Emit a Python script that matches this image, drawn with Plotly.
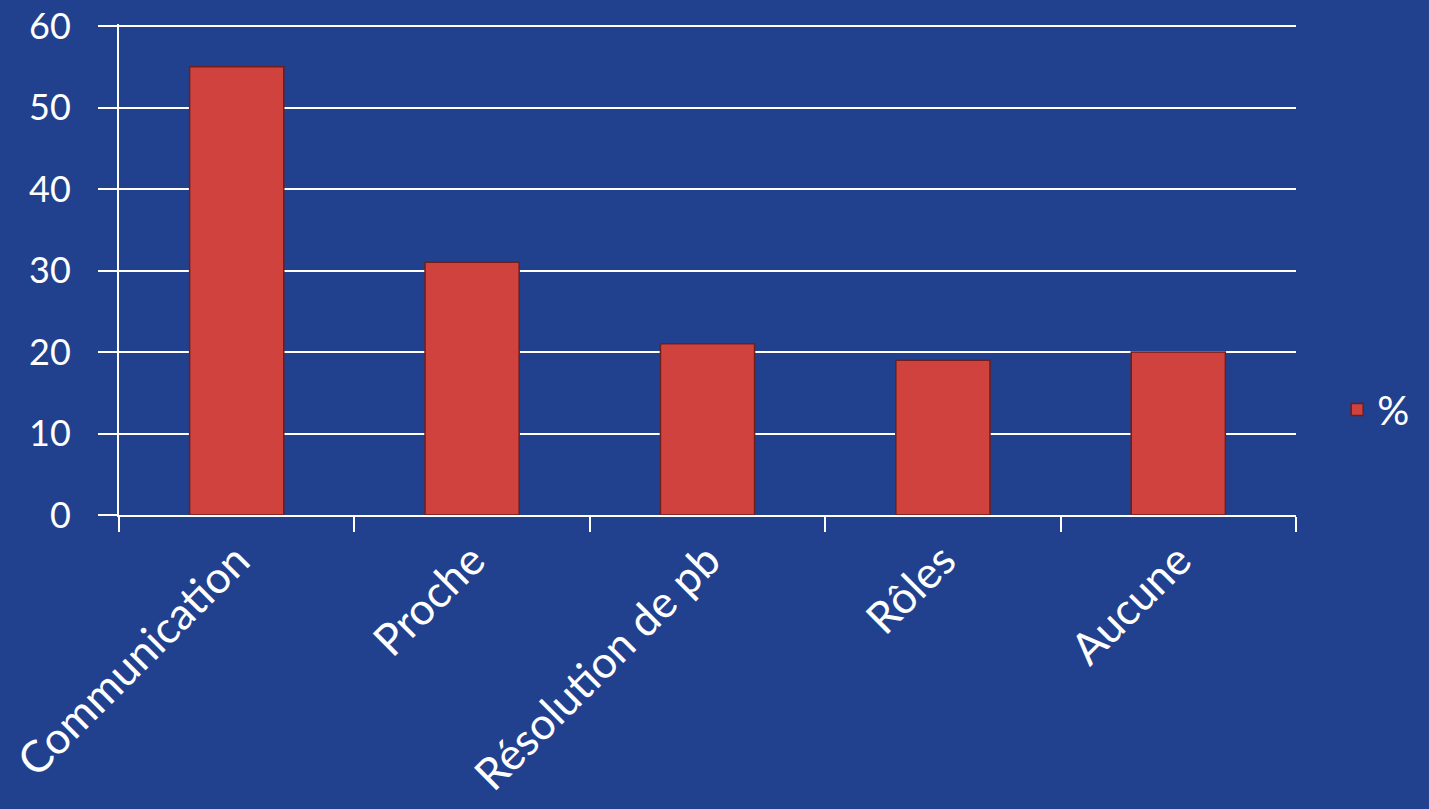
import plotly.graph_objects as go

categories = ["Communication", "Proche", "Résolution de pb", "Rôles", "Aucune"]
values = [55, 31, 21, 19, 20]
series_name = "%"

BG = "#21418E"
BAR = "#CF423E"

fig = go.Figure()
fig.add_trace(go.Bar(
    x=categories, y=values, name=series_name,
    marker=dict(color=BAR, line=dict(color="#6E1E1C", width=1.5)),
    showlegend=True,
))

fig.update_layout(
    width=1429, height=809,
    paper_bgcolor=BG, plot_bgcolor=BG,
    margin=dict(l=119, r=133, t=24, b=294, autoexpand=False),
    bargap=0.6,
    font=dict(family="Lato, Open Sans, sans-serif", color="white", size=35),
    legend=dict(x=1.035, y=0.215, xanchor="left", yanchor="middle",
                font=dict(size=40, color="white"), bgcolor="rgba(0,0,0,0)"),
    xaxis=dict(
        tickson="boundaries", ticks="outside", ticklen=15, tickwidth=2,
        tickcolor="white", showline=True, linecolor="white", linewidth=2,
        tickangle=-45, tickfont=dict(size=44, color="white"),
        showgrid=False, range=[-0.5, 4.5], automargin=False,
    ),
    yaxis=dict(
        range=[0, 60.25], tickvals=[0, 10, 20, 30, 40, 50, 60],
        showgrid=True, gridcolor="white", gridwidth=2,
        ticks="outside", ticklen=19, tickwidth=2, tickcolor="white",
        showline=True, linecolor="white", linewidth=2,
        tickfont=dict(size=36, color="white"), ticklabelstandoff=20,
        zeroline=False, automargin=False,
    ),
)

fig.write_html("out.html", config={"displayModeBar": False},
               post_script="document.body.style.margin='0';")
